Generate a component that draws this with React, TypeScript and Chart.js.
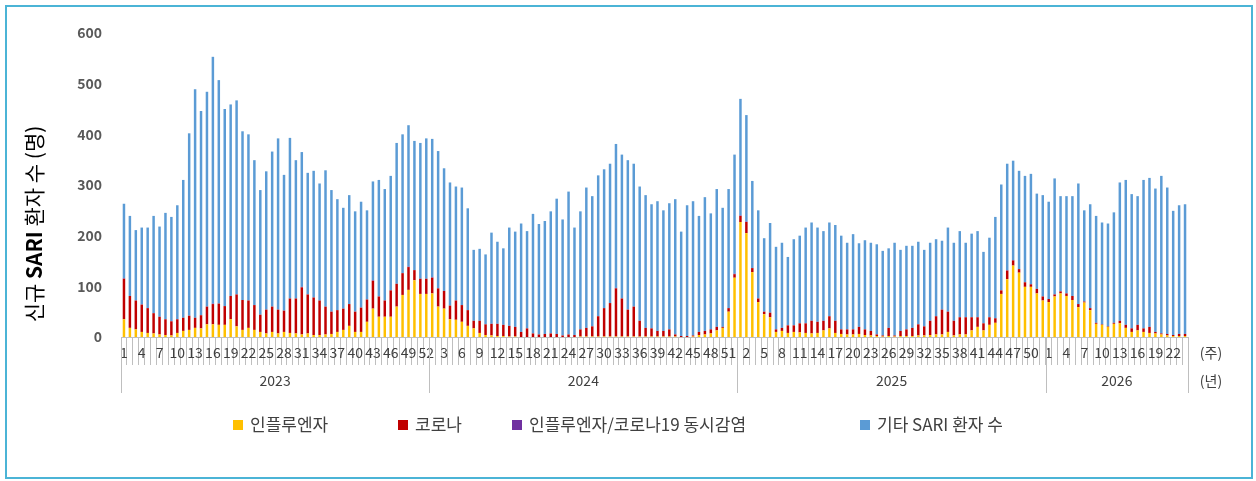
import React, { useEffect, useRef } from 'react';
import { Chart, registerables } from 'chart.js';

Chart.register(...registerables);

const yearNames = ['2023', '2024', '2025', '2026'];
const weeksPerYear = [52, 52, 52, 24];
const weekLabels: string[] = weeksPerYear.flatMap((n) => Array.from({ length: n }, (_, k) => String(k + 1)));

const seriesNames = ['인플루엔자', '코로나', '인플루엔자/코로나19 동시감염', '기타 SARI 환자 수'];
const yTitleParts = [
  { text: '신규 ', bold: false },
  { text: 'SARI', bold: true },
  { text: ' 환자 수 (명)', bold: false },
];
const yTicks = [0, 100, 200, 300, 400, 500, 600];

// 인플루엔자
const fluValues = [
  // 2023
  35, 18, 15, 10, 8, 7, 5, 4, 3, 8, 12, 14, 18, 17, 25, 25, 24, 24, 35, 21, 14, 18, 14, 10, 7, 10,
  7, 10, 8, 7, 5, 7, 4, 4, 5, 6, 10, 14, 22, 10, 10, 30, 56, 40, 40, 40, 60, 83, 93, 112, 85, 85,
  // 2024
  86, 60, 56, 35, 34, 30, 22, 17, 8, 4, 3, 2, 2, 1, 1, 0, 0, 0, 0, 0, 0, 0, 0, 0, 0, 1,
  1, 1, 1, 1, 1, 1, 1, 1, 1, 1, 1, 1, 1, 1, 1, 1, 0, 0, 1, 4, 5, 7, 13, 18, 50, 117,
  // 2025
  227, 205, 128, 69, 45, 39, 10, 12, 8, 10, 9, 8, 7, 8, 13, 17, 8, 6, 5, 5, 6, 4, 3, 2, 1, 2,
  1, 2, 2, 2, 3, 3, 4, 5, 5, 10, 3, 5, 5, 13, 20, 13, 24, 28, 85, 114, 141, 127, 99, 99, 86, 72,
  // 2026
  69, 80, 86, 81, 73, 59, 68, 53, 26, 24, 20, 26, 27, 18, 10, 13, 10, 8, 7, 5, 3, 2, 2, 2,
];

// 코로나
const covidValues = [
  // 2023
  80, 63, 57, 54, 49, 40, 35, 31, 28, 27, 26, 28, 20, 26, 35, 40, 42, 37, 46, 63, 59, 54, 49, 34, 47, 50,
  47, 42, 68, 69, 93, 77, 74, 68, 55, 44, 43, 42, 43, 40, 48, 44, 55, 40, 32, 52, 45, 43, 45, 20, 30, 30,
  // 2024
  31, 36, 35, 27, 38, 33, 31, 15, 24, 21, 23, 24, 22, 21, 19, 10, 17, 7, 5, 6, 7, 6, 3, 5, 4, 14,
  17, 20, 40, 56, 66, 95, 75, 53, 59, 31, 17, 16, 11, 11, 14, 4, 2, 2, 2, 6, 7, 8, 7, 2, 7, 7,
  // 2025
  12, 22, 8, 7, 5, 9, 5, 6, 15, 13, 18, 19, 25, 22, 19, 24, 24, 9, 10, 10, 14, 11, 9, 3, 2, 16,
  2, 10, 13, 16, 22, 18, 28, 36, 49, 40, 29, 34, 34, 26, 19, 14, 15, 9, 7, 17, 10, 7, 9, 5, 9, 8,
  // 2026
  6, 4, 4, 5, 8, 6, 2, 4, 2, 1, 1, 2, 5, 6, 7, 11, 7, 12, 3, 2, 3, 2, 4, 4,
];

// 인플루엔자/코로나19 동시감염
const coinfectionValues = [
  // 2023
  1, 0, 0, 0, 0, 0, 0, 0, 0, 0, 0, 0, 0, 0, 0, 1, 0, 0, 0, 0, 0, 0, 0, 0, 0, 0,
  0, 0, 0, 0, 1, 0, 0, 0, 0, 0, 0, 0, 0, 0, 0, 0, 1, 0, 0, 0, 0, 0, 1, 0, 0, 0,
  // 2024
  1, 0, 0, 0, 0, 0, 0, 0, 0, 0, 0, 0, 0, 0, 0, 0, 0, 0, 0, 0, 0, 0, 0, 0, 0, 0,
  0, 0, 0, 0, 0, 1, 0, 0, 0, 0, 0, 0, 0, 0, 0, 0, 0, 0, 0, 0, 0, 0, 0, 0, 0, 1,
  // 2025
  1, 1, 0, 0, 0, 0, 0, 0, 0, 0, 0, 0, 0, 0, 0, 0, 0, 0, 0, 0, 0, 0, 0, 0, 0, 0,
  0, 0, 0, 0, 0, 0, 0, 0, 0, 0, 0, 0, 0, 0, 0, 0, 0, 0, 0, 1, 1, 0, 0, 0, 0, 0,
  // 2026
  0, 0, 0, 0, 0, 0, 0, 0, 0, 0, 0, 0, 0, 0, 0, 0, 0, 0, 0, 0, 0, 0, 0, 0,
];

// 기타 SARI 환자 수
const otherValues = [
  // 2023
  147, 158, 139, 152, 159, 192, 178, 210, 206, 225, 272, 360, 451, 403, 424, 487, 441, 389, 378, 383, 333, 328, 286, 246, 273, 306,
  338, 268, 317, 273, 266, 240, 250, 231, 269, 240, 219, 199, 215, 198, 209, 176, 195, 230, 220, 226, 278, 274, 279, 255, 268, 277,
  // 2024
  273, 271, 242, 243, 225, 232, 201, 140, 142, 138, 180, 162, 151, 194, 188, 214, 192, 236, 218, 223, 241, 267, 229, 282, 212, 233,
  277, 257, 278, 274, 275, 284, 284, 295, 282, 265, 262, 245, 256, 238, 249, 267, 206, 258, 265, 229, 264, 229, 272, 235, 235, 235,
  // 2025
  230, 210, 172, 174, 145, 177, 163, 168, 135, 170, 173, 189, 194, 186, 177, 185, 189, 185, 171, 188, 165, 176, 174, 178, 167, 157,
  183, 160, 165, 162, 163, 151, 154, 152, 136, 166, 154, 170, 147, 165, 170, 141, 157, 200, 209, 210, 196, 194, 210, 218, 188, 200,
  // 2026
  192, 229, 188, 192, 197, 238, 180, 205, 211, 201, 203, 218, 273, 286, 265, 254, 293, 294, 283, 311, 289, 245, 254, 256,
];

const seriesColors = ['#FFC000', '#C00000', '#7030A0', '#5B9BD5'];
const legendBoxLeft = [233, 398, 512, 860];
const FONT = '"Noto Sans CJK KR", "Noto Sans", sans-serif';
const GRID = '#BFBFBF';
const TEXT = '#404040';

const decorPlugin = {
  id: 'decor',
  afterDraw(chart: any) {
    const { ctx } = chart;
    const x = chart.scales.x;
    const step = x.getPixelForValue(1) - x.getPixelForValue(0);
    const top = x.top;
    ctx.save();
    ctx.strokeStyle = GRID;
    ctx.lineWidth = 1;
    ctx.fillStyle = TEXT;
    ctx.font = `14px ${FONT}`;
    ctx.textAlign = 'center';
    ctx.textBaseline = 'middle';
    let start = 0;
    const edges: number[] = [];
    yearNames.forEach((yn, k) => {
      const n = weeksPerYear[k];
      const l = x.getPixelForValue(start) - step / 2;
      const r = x.getPixelForValue(start + n - 1) + step / 2;
      if (k === 0) edges.push(l);
      edges.push(r);
      ctx.fillText(yn, (l + r) / 2, top + 44);
      start += n;
    });
    edges.forEach((e) => {
      const px = Math.round(e) + 0.5;
      ctx.beginPath();
      ctx.moveTo(px, top);
      ctx.lineTo(px, top + 56);
      ctx.stroke();
    });
    ctx.fillText('(주)', x.right + 23, top + 16);
    ctx.fillText('(년)', x.right + 23, top + 44);

    // legend
    ctx.font = `17px ${FONT}`;
    ctx.textAlign = 'left';
    chart.data.datasets.forEach((ds: any, i: number) => {
      const bx = legendBoxLeft[i];
      ctx.fillStyle = ds.backgroundColor;
      ctx.fillRect(bx, 420, 10, 10);
      ctx.fillStyle = TEXT;
      ctx.fillText(ds.label, bx + 17, 425);
    });

    // y axis title
    ctx.save();
    ctx.translate(34, 224);
    ctx.rotate(-Math.PI / 2);
    ctx.fillStyle = '#000000';
    ctx.textBaseline = 'middle';
    ctx.textAlign = 'left';
    const size = 21;
    const widths = yTitleParts.map((p) => {
      ctx.font = `${p.bold ? 'bold ' : ''}${size}px ${FONT}`;
      return ctx.measureText(p.text).width;
    });
    const total = widths.reduce((a, b) => a + b, 0);
    let cx = -total / 2;
    yTitleParts.forEach((p, i) => {
      ctx.font = `${p.bold ? 'bold ' : ''}${size}px ${FONT}`;
      ctx.fillText(p.text, cx, 0);
      cx += widths[i];
    });
    ctx.restore();
    ctx.restore();
  },
};

export default function App() {
  const canvasRef = useRef<HTMLCanvasElement | null>(null);

  useEffect(() => {
    const canvas = canvasRef.current;
    if (!canvas) return;
    Chart.defaults.font.family = FONT;
    const values = [fluValues, covidValues, coinfectionValues, otherValues];
    const chart = new Chart(canvas, {
      type: 'bar',
      data: {
        labels: weekLabels,
        datasets: seriesNames.map((name, i) => ({
          label: name,
          data: values[i],
          backgroundColor: seriesColors[i],
          borderWidth: 0,
          barPercentage: 0.42,
          categoryPercentage: 1.0,
        })),
      },
      options: {
        animation: false,
        responsive: false,
        maintainAspectRatio: false,
        layout: { padding: { left: 22, right: 0, top: 33, bottom: 114.5 } },
        plugins: {
          legend: { display: false },
          tooltip: { enabled: false },
        },
        scales: {
          x: {
            stacked: true,
            grid: {
              display: true,
              drawOnChartArea: false,
              drawTicks: true,
              tickLength: 28,
              color: GRID,
              offset: true,
            },
            border: { display: true, color: GRID },
            ticks: {
              autoSkip: false,
              maxRotation: 0,
              minRotation: 0,
              padding: -21,
              color: TEXT,
              font: { size: 14, family: FONT },
              callback: (_v: any, i: number) => (i % 3 === 0 ? weekLabels[i] : ''),
            },
            afterFit: (s: any) => {
              s.height = 29.5;
            },
          },
          y: {
            stacked: true,
            min: 0,
            max: 600,
            afterBuildTicks: (s: any) => {
              s.ticks = yTicks.map((v) => ({ value: v }));
            },
            ticks: {
              padding: 11,
              color: '#595959',
              font: { size: 14, weight: 'bold', family: FONT },
            },
            grid: { display: false },
            border: { display: false },
            afterFit: (s: any) => {
              s.width = 99;
            },
          },
          yPad: {
            type: 'linear',
            position: 'right',
            display: true,
            grid: { display: false },
            border: { display: false },
            ticks: { display: false },
            afterFit: (s: any) => {
              s.width = 68;
            },
          },
        },
      } as any,
      plugins: [decorPlugin],
    });
    return () => chart.destroy();
  }, []);

  return (
    <div
      style={{
        position: 'fixed',
        left: 0,
        top: 0,
        width: 1256,
        height: 481,
        background: '#ffffff',
      }}
    >
      <canvas ref={canvasRef} width={1256} height={481} style={{ display: 'block', width: 1256, height: 481 }} />
      <div
        style={{
          position: 'absolute',
          left: 5,
          top: 5,
          width: 1248,
          height: 474,
          border: '2px solid #4BB4D6',
          boxSizing: 'border-box',
          pointerEvents: 'none',
        }}
      />
    </div>
  );
}
